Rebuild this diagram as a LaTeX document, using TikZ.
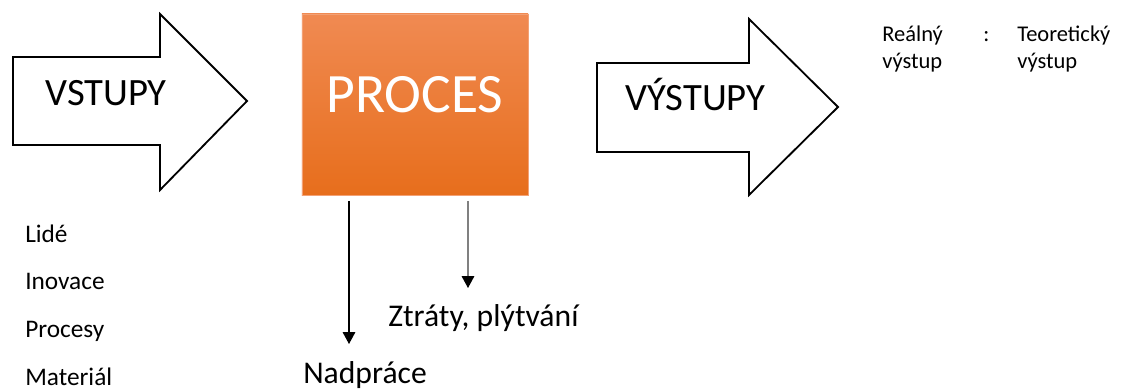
\documentclass[tikz,border=0pt]{standalone}
\usepackage{fontspec}
\setmainfont{Carlito}
\usetikzlibrary{
  arrows.meta,  % Triangle tips
  positioning,
  calc
}
\definecolor{procTop}{RGB}{240,138,82}
\definecolor{procBot}{RGB}{231,110,28}
\definecolor{lossGray}{RGB}{128,128,128}
\newcommand{\fs}[1]{\fontsize{#1}{1.2\dimexpr#1\relax}\selectfont}
\tikzset{
  >={Triangle[width=9pt,length=8.5pt,color=black]},
  block arrow/.style={
    draw=black,
    fill=white,
    line width=1.3pt,
    line join=miter
  },
  proc box/.style={
    rectangle,
    draw=procTop!80!white,
    top color=procTop,
    bottom color=procBot,
    minimum width=5.65cm,
    minimum height=4.525cm,
    inner sep=0pt
  },
  big label/.style={
    anchor=base west,
    inner sep=0pt,
    font=\fs{27.5pt}
  },
  item/.style={
    anchor=base west,
    inner sep=0pt,
    font=\fs{18pt}
  },
  result/.style={
    anchor=base west,
    inner sep=0pt,
    font=\fs{22.5pt}
  },
  ratio/.style={
    anchor=base west,
    inner sep=0pt,
    font=\fs{16pt}
  },
  flow/.style={
    ->,
    line width=0.8pt,
    shorten <=5\pgflinewidth
  }
}

\begin{document}
\begin{tikzpicture}[x=0.025cm,y=-0.025cm]
\useasboundingbox (0,0) rectangle (1124,390);
% block arrows
\draw[block arrow] (13,57) -- (160,57) -- (160,14) -- (247,101)
  -- (160,190) -- (160,145) -- (13,145) -- cycle;
\draw[block arrow] (597,63) -- (749,63) -- (749,19) -- (838,107)
  -- (749,195) -- (749,152) -- (597,152) -- cycle;
\node[big label] (vst) at (45,105)  {VSTUPY};
\node[big label] (vys) at (625,110) {VÝSTUPY};
% process
\node[proc box] (proc) at (415,104.5) {};
\node[anchor=base,inner sep=0pt,text=white,font=\fs{39.5pt}] (proct)
  at (415,112) {PROCES};
% inputs
\foreach \w [count=\i] in {Lidé,Inovace,Procesy,Materiál}
  \node[item] (l\i) at (25,{242+47.8*(\i-1)}) {\w};
% losses
\coordinate (nadtip) at (349,344);
\coordinate (ztrtip) at (468,288);
\draw[flow] (proc.south -| nadtip) -- (nadtip);
\draw[flow,draw=lossGray] (proc.south -| ztrtip) -- (ztrtip);
\node[result] (ztr) at (388,326) {Ztráty, plýtvání};
\node[result] (nad) at (303,383) {Nadpráce};
% ratio
\node[ratio] (re1) at (882,41)  {Reálný};
\node[ratio] (re2) at (882,68)  {výstup};
\node[ratio] (col) at (983,41)  {:};
\node[ratio] (te1) at (1017,41) {Teoretický};
\node[ratio] (te2) at (1017,68) {výstup};
\end{tikzpicture}
\end{document}
